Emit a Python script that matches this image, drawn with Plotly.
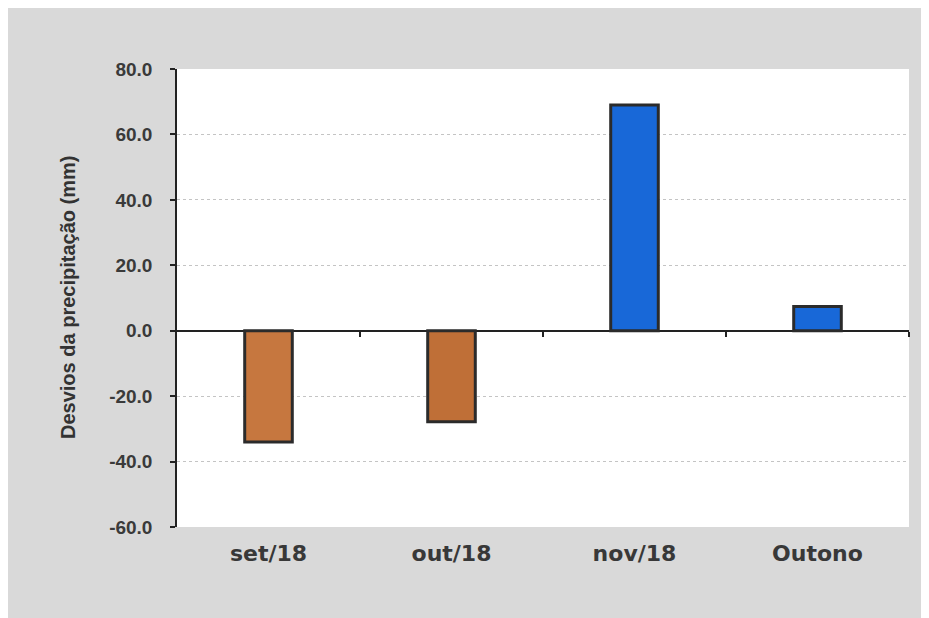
import plotly.graph_objects as go

categories = ["set/18", "out/18", "nov/18", "Outono"]
values = [-34.0, -27.8, 69.0, 7.4]
bar_colors = ["#c6773f", "#bf6f37", "#1868d8", "#1868d8"]
y_ticks = [-60, -40, -20, 0, 20, 40, 60, 80]
y_tick_text = ["%.1f" % v for v in y_ticks]

W, H = 929, 618
ml, mr, mt, mb = 169, 28, 61, 99
pw = W - ml - mr
ph = H - mt - mb

fig = go.Figure()
fig.add_trace(go.Bar(
    x=list(range(len(categories))),
    y=values,
    marker=dict(color=bar_colors, line=dict(color="#2b2b2b", width=3)),
    width=0.26,
    hoverinfo="skip",
))
fig.add_trace(go.Scatter(x=[None], y=[None], xaxis="x2", hoverinfo="skip"))

fig.update_layout(
    width=W, height=H,
    margin=dict(l=ml, r=mr, t=mt, b=mb, pad=0),
    paper_bgcolor="#d9d9d9",
    plot_bgcolor="white",
    showlegend=False,
    xaxis=dict(
        range=[-0.5, 3.5],
        tickvals=list(range(len(categories))),
        ticktext=categories,
        showgrid=False, zeroline=False, showline=False,
        ticks="",
        tickfont=dict(family="DejaVu Sans", size=22, color="#383838", weight="bold"),
        ticklabelstandoff=11,
        fixedrange=True,
    ),
    xaxis2=dict(
        overlaying="x", anchor="free", position=(0 - (-60)) / 140,
        range=[-0.5, 3.5],
        tickvals=[0.5, 1.5, 2.5, 3.5],
        ticks="outside", ticklen=5, tickwidth=1.5, tickcolor="#222222",
        showticklabels=False, showgrid=False, zeroline=False, showline=False,
    ),
    yaxis=dict(
        range=[-60, 80],
        tickvals=y_ticks,
        ticktext=y_tick_text,
        showgrid=True, gridcolor="#c4c4c4", griddash="dot", gridwidth=1,
        zeroline=True, zerolinecolor="#222222", zerolinewidth=1.5,
        showline=True, linecolor="#222222", linewidth=1.5,
        ticks="outside", ticklen=5, tickwidth=1.5, tickcolor="#222222",
        tickfont=dict(family="Liberation Sans", size=19, color="#3a3a3a", weight="bold"),
        ticklabelstandoff=14,
        fixedrange=True,
    ),
    annotations=[
        dict(text="Desvios da precipitação (mm)", xref="paper", yref="paper",
             x=(60 - ml) / pw, y=0.5, textangle=-90, showarrow=False,
             xanchor="center", yanchor="middle",
             font=dict(family="Liberation Sans", size=20, color="#333333", weight="bold")),
    ],
)

fig.write_html("out.html", post_script="document.body.style.overflow='hidden';")
